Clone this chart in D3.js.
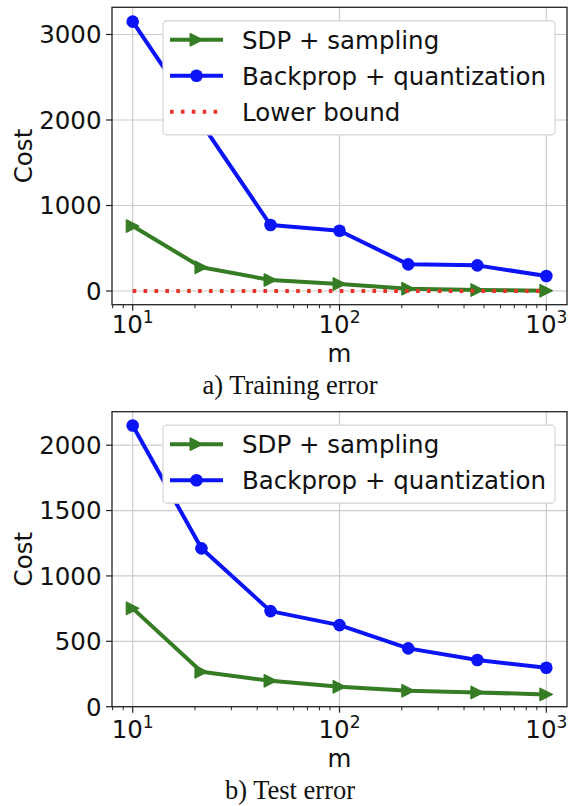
<!DOCTYPE html>
<html>
<head>
<meta charset="utf-8">
<script src="https://cdn.jsdelivr.net/npm/d3@7"></script>
<style>
  body { margin: 0; background: #fff; }
  text { font-family: "DejaVu Sans", sans-serif; fill: #111; }
  .caption { font-family: "Liberation Serif", "Times New Roman", serif; }
</style>
</head>
<body>
<div id="area"></div>
<script>
const mValues = [10, 21.5, 46.4, 100, 215, 464, 1000]
const trainSdp = [760, 277, 129, 82, 27, 12, 4]
const trainBackprop = [3150, 1960, 772, 705, 312, 300, 175]
const trainLower = [0, 0, 0, 0, 0, 0, 0]
const testSdp = [752, 267, 198, 152, 122, 109, 94]
const testBackprop = [2151, 1211, 731, 624, 446, 357, 298]
const xTicks = [10, 100, 1000]
const trainYTicks = [0, 1000, 2000, 3000]
const testYTicks = [0, 500, 1000, 1500, 2000]
const seriesNames = ['SDP + sampling', 'Backprop + quantization', 'Lower bound']

const green = '#367c24'
const blue = '#0a14f5'
const red = '#e8332a'
const fs = '24.5px'

const svg = d3.select('#area')
  .append('svg')
  .attr('width', 568)
  .attr('height', 806)

const xScale = d3.scaleLog()
  .domain([Math.pow(10, 0.9), Math.pow(10, 3.1)])
  .range([112, 567])

function triangle(r) {
  return `M${r},0L${-r},${r}L${-r},${-r}Z`
}

function panel(opts) {
  const g = svg.append('g')
  const y = d3.scaleLinear().domain(opts.yDomain).range([opts.bottom, opts.top])
  const [x0, x1] = xScale.range()
  const off = opts.offset

  // grid
  g.selectAll('.gx').data(xTicks).enter().append('line')
    .attr('x1', d => xScale(d)).attr('x2', d => xScale(d))
    .attr('y1', opts.top).attr('y2', opts.bottom)
    .attr('stroke', '#cbcbcb').attr('stroke-width', 1.2)
  g.selectAll('.gy').data(opts.yTicks).enter().append('line')
    .attr('x1', x0).attr('x2', x1)
    .attr('y1', d => y(d)).attr('y2', d => y(d))
    .attr('stroke', '#cbcbcb').attr('stroke-width', 1.2)

  // series
  const line = d3.line().x((d, i) => xScale(mValues[i])).y(d => y(d))
  opts.series.forEach(s => {
    g.append('path')
      .attr('d', line(s.values))
      .attr('fill', 'none')
      .attr('stroke', s.color)
      .attr('stroke-width', 4)
      .attr('stroke-linejoin', 'round')
      .attr('stroke-dasharray', s.dotted ? '3.6 7.3' : null)
    if (s.marker === 'circle') {
      g.selectAll(null).data(s.values).enter().append('circle')
        .attr('cx', (d, i) => xScale(mValues[i]))
        .attr('cy', d => y(d))
        .attr('r', 6.3)
        .attr('fill', s.color)
    } else if (s.marker === 'tri') {
      g.selectAll(null).data(s.values).enter().append('path')
        .attr('d', triangle(6.5))
        .attr('transform', (d, i) => `translate(${xScale(mValues[i])},${y(d)})`)
        .attr('fill', s.color)
        .attr('stroke', s.color)
        .attr('stroke-width', 1)
    }
  })

  // frame
  g.append('rect')
    .attr('x', x0).attr('y', opts.top)
    .attr('width', x1 - x0).attr('height', opts.bottom - opts.top)
    .attr('fill', 'none').attr('stroke', '#222').attr('stroke-width', 1.3)

  // y ticks
  g.selectAll('.ty').data(opts.yTicks).enter().append('line')
    .attr('x1', x0 - 6).attr('x2', x0)
    .attr('y1', d => y(d)).attr('y2', d => y(d))
    .attr('stroke', '#222').attr('stroke-width', 1.2)
  g.selectAll('.ly').data(opts.yTicks).enter().append('text')
    .attr('x', x0 - 10.5)
    .attr('y', d => y(d))
    .attr('dy', '0.36em')
    .attr('text-anchor', 'end')
    .style('font-size', fs)
    .text(d => d)

  // x ticks
  const minor = xScale.ticks().filter(d => xTicks.indexOf(d) < 0)
  g.selectAll('.tm').data(minor).enter().append('line')
    .attr('x1', d => xScale(d)).attr('x2', d => xScale(d))
    .attr('y1', opts.bottom).attr('y2', opts.bottom + 3.5)
    .attr('stroke', '#222').attr('stroke-width', 1)
  g.selectAll('.tx').data(xTicks).enter().append('line')
    .attr('x1', d => xScale(d)).attr('x2', d => xScale(d))
    .attr('y1', opts.bottom).attr('y2', opts.bottom + 6)
    .attr('stroke', '#222').attr('stroke-width', 1.2)
  const lx = g.selectAll('.lx').data(xTicks).enter().append('text')
    .attr('x', d => xScale(d))
    .attr('y', opts.bottom + off[0])
    .attr('text-anchor', 'middle')
    .style('font-size', fs)
  lx.append('tspan').text('10')
  lx.append('tspan')
    .attr('dy', -10)
    .style('font-size', '17px')
    .text(d => Math.round(Math.log10(d)))

  // axis labels
  g.append('text')
    .attr('x', (x0 + x1) / 2)
    .attr('y', opts.bottom + off[1])
    .attr('text-anchor', 'middle')
    .style('font-size', fs)
    .text('m')
  g.append('text')
    .attr('transform', `translate(31.5,${(opts.top + opts.bottom) / 2}) rotate(-90)`)
    .attr('text-anchor', 'middle')
    .style('font-size', fs)
    .text('Cost')
  g.append('text')
    .attr('class', 'caption')
    .attr('x', 290)
    .attr('y', opts.bottom + off[2])
    .attr('text-anchor', 'middle')
    .style('font-size', '26.5px')
    .text(opts.caption)

  // legend
  const n = opts.series.length
  const ly0 = opts.top + 13.5
  g.append('rect')
    .attr('x', 163).attr('y', ly0)
    .attr('width', 392).attr('height', 19 + 36 * (n - 1) + 23)
    .attr('rx', 4)
    .attr('fill', 'white')
    .attr('stroke', '#d4d4d4').attr('stroke-width', 1.2)
  opts.series.forEach((s, i) => {
    const ry = ly0 + 19 + i * 36
    g.append('line')
      .attr('x1', 170).attr('x2', 223)
      .attr('y1', ry).attr('y2', ry)
      .attr('stroke', s.color).attr('stroke-width', 4)
      .attr('stroke-dasharray', s.dotted ? '3.6 7.3' : null)
    if (s.marker === 'circle') {
      g.append('circle').attr('cx', 196.5).attr('cy', ry).attr('r', 6.3).attr('fill', s.color)
    } else if (s.marker === 'tri') {
      g.append('path').attr('d', triangle(6.5))
        .attr('transform', `translate(196.5,${ry})`)
        .attr('fill', s.color).attr('stroke', s.color).attr('stroke-width', 1)
    }
    g.append('text')
      .attr('x', 242).attr('y', ry)
      .attr('dy', '0.36em')
      .style('font-size', fs)
      .text(s.name)
  })
}

panel({
  top: 7.3, bottom: 304.7,
  yDomain: [-160, 3318],
  yTicks: trainYTicks,
  offset: [28, 57, 89],
  caption: 'a) Training error',
  series: [
    { name: seriesNames[0], values: trainSdp, color: green, marker: 'tri' },
    { name: seriesNames[1], values: trainBackprop, color: blue, marker: 'circle' },
    { name: seriesNames[2], values: trainLower, color: red, dotted: true }
  ]
})

panel({
  top: 411.7, bottom: 706.7,
  yDomain: [0, 2256],
  yTicks: testYTicks,
  offset: [31, 60, 92],
  caption: 'b) Test error',
  series: [
    { name: seriesNames[0], values: testSdp, color: green, marker: 'tri' },
    { name: seriesNames[1], values: testBackprop, color: blue, marker: 'circle' }
  ]
})
</script>
</body>
</html>
